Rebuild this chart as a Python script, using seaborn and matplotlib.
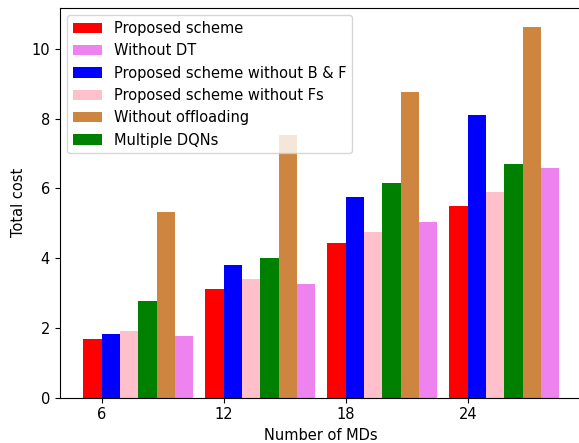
import numpy as np
import pandas as pd
import matplotlib
matplotlib.use("Agg")
import matplotlib.pyplot as plt
import seaborn as sns

plt.rcParams["font.size"] = 10.5

# Number of mobile devices on the x axis
num_mds = [6, 12, 18, 24]

# Total cost for each scheme
proposed = [1.67, 3.12, 4.44, 5.50]
without_dt = [1.76, 3.25, 5.05, 6.59]
without_bf = [1.84, 3.81, 5.74, 8.10]
without_fs = [1.91, 3.39, 4.74, 5.89]
without_offloading = [5.32, 7.52, 8.77, 10.63]
multiple_dqns = [2.78, 3.99, 6.14, 6.71]

labels = [
    "Proposed scheme",
    "Without DT",
    "Proposed scheme without B & F",
    "Proposed scheme without Fs",
    "Without offloading",
    "Multiple DQNs",
]
series = [proposed, without_dt, without_bf, without_fs, without_offloading, multiple_dqns]
colors = ["red", "violet", "blue", "pink", "peru", "green"]
# slot of each scheme inside a group (0 = leftmost bar)
slots = [0, 5, 1, 2, 4, 3]

bar_w = 0.9

fig = plt.figure(figsize=(5.79, 4.43), dpi=100)
ax = fig.add_axes([59.6 / 579, 45.3 / 443, 523.4 / 579, 389.7 / 443])

for vals, lab, col, slot in zip(series, labels, colors, slots):
    df = pd.DataFrame({
        "x": np.array(num_mds, dtype=float) + (slot - 0.5) * bar_w,
        "y": vals,
    })
    sns.barplot(data=df, x="x", y="y", native_scale=True, width=bar_w / 6,
                color=col, saturation=1, errorbar=None, label=lab, ax=ax,
                linewidth=0)

ax.set_xticks(num_mds)
ax.set_xticklabels([str(v) for v in num_mds])
ax.set_xlim(3.93, 29.67)
ax.set_ylim(0, 11.17)
ax.set_yticks([0, 2, 4, 6, 8, 10])
ax.set_xlabel("Number of MDs")
ax.set_ylabel("Total cost")
ax.legend(loc="upper left")

fig.savefig("out.png", dpi=100)
